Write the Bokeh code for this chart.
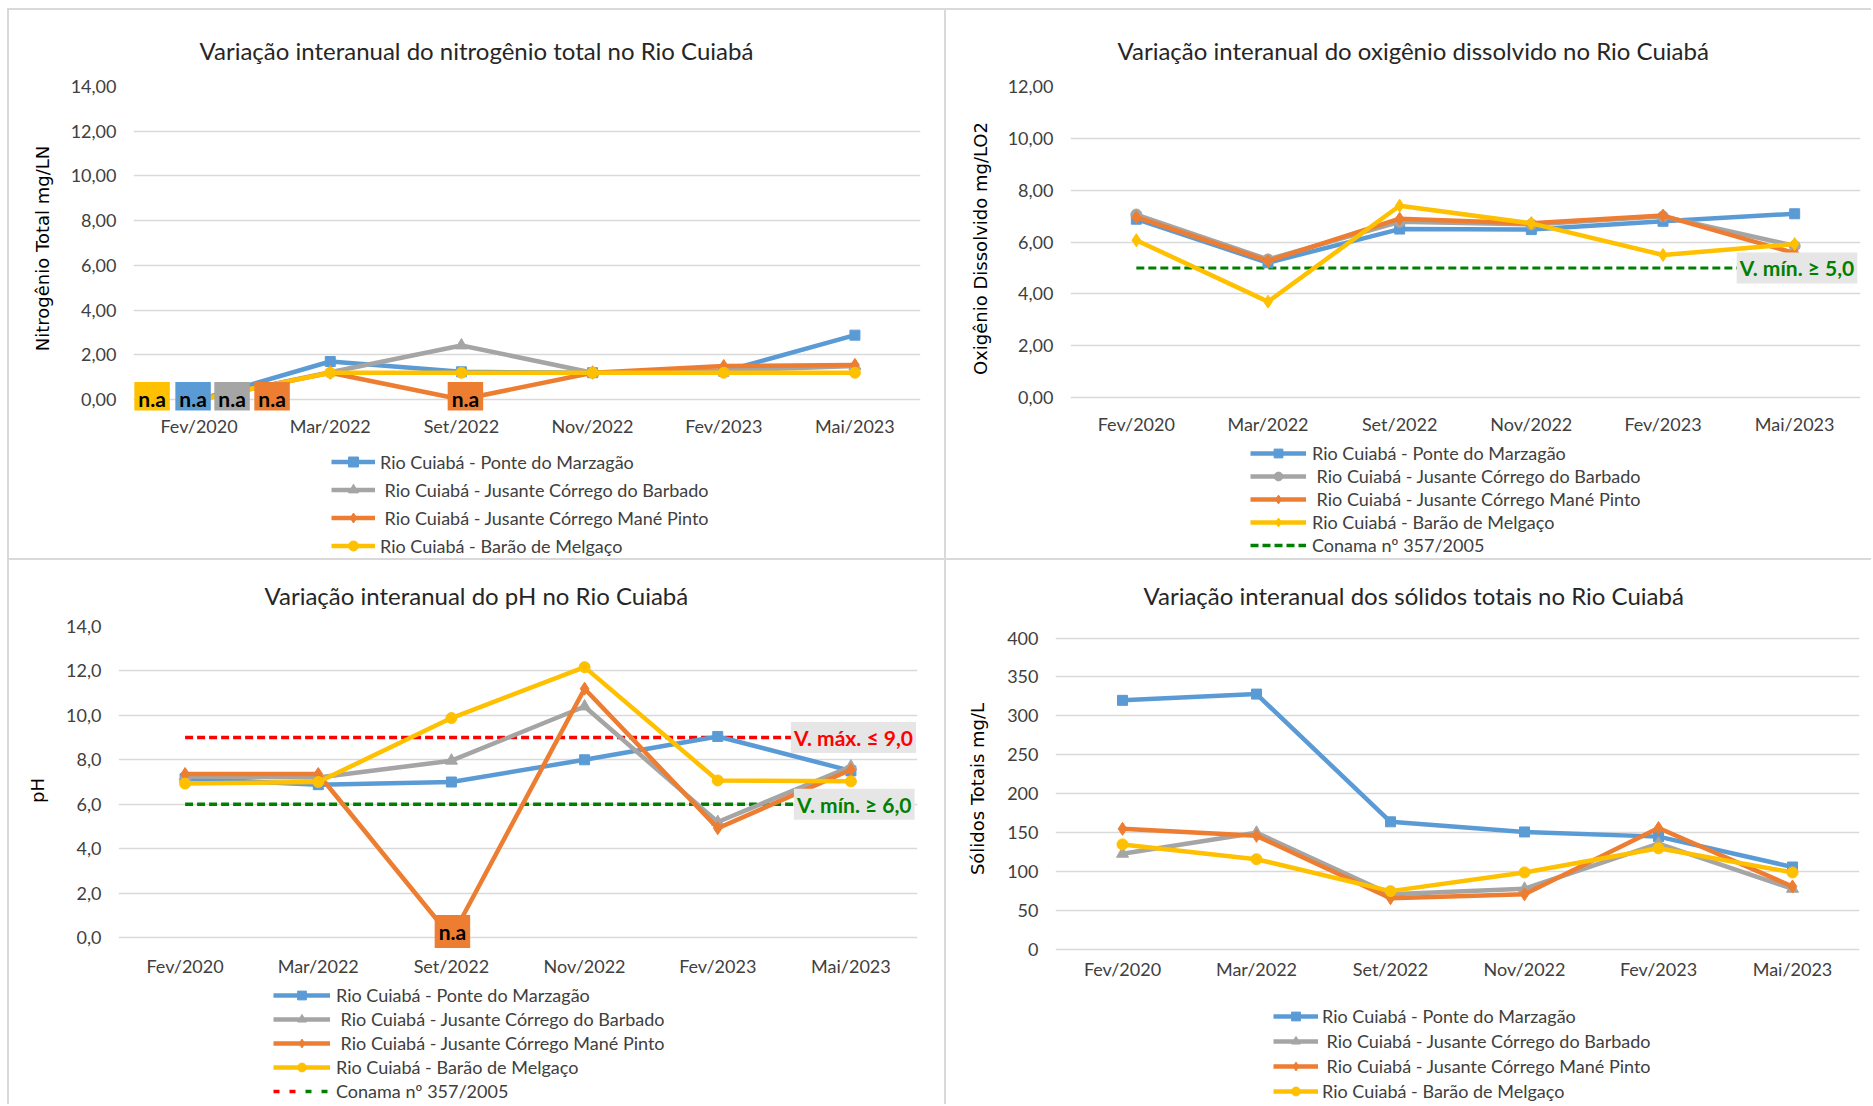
from bokeh.plotting import figure
from bokeh.models import FactorRange, Range1d, FixedTicker, Legend, LegendItem, Label, Spacer
from bokeh.layouts import row, column
from bokeh.core.properties import value
from bokeh.embed import file_html
from bokeh.resources import INLINE

# ---------------- data ----------------
categories = ["Fev/2020", "Mar/2022", "Set/2022", "Nov/2022", "Fev/2023", "Mai/2023"]
series_names = ["Rio Cuiabá - Ponte do Marzagão",
                " Rio Cuiabá - Jusante Córrego do Barbado",
                " Rio Cuiabá - Jusante Córrego Mané Pinto",
                "Rio Cuiabá - Barão de Melgaço"]
conama_label = "Conama nº 357/2005"
na_text = "n.a"

# Nitrogênio total (mg/L N)
n_ponte = [0.0, 1.70, 1.24, 1.20, 1.26, 2.88]
n_barbado = [0.0, 1.22, 2.42, 1.20, 1.30, 1.50]
n_mane = [0.0, 1.20, 0.0, 1.20, 1.50, 1.55]
n_barao = [0.0, 1.20, 1.20, 1.20, 1.20, 1.20]
n_ticks = [0, 2, 4, 6, 8, 10, 12, 14]
n_tick_labels = ["0,00", "2,00", "4,00", "6,00", "8,00", "10,00", "12,00", "14,00"]

# Oxigênio dissolvido (mg/L O2)
o_ponte = [6.88, 5.20, 6.50, 6.48, 6.80, 7.09]
o_barbado = [7.06, 5.33, 6.78, 6.68, 6.99, 5.85]
o_mane = [6.96, 5.27, 6.90, 6.72, 7.02, 5.57]
o_barao = [6.07, 3.70, 7.40, 6.72, 5.50, 5.92]
o_conama_min = [5.0, 5.0, 5.0, 5.0, 5.0, 5.0]
o_ticks = [0, 2, 4, 6, 8, 10, 12]
o_tick_labels = ["0,00", "2,00", "4,00", "6,00", "8,00", "10,00", "12,00"]
o_min_text = "V. mín. ≥ 5,0"

# pH
p_ponte = [7.15, 6.88, 7.00, 8.00, 9.05, 7.50]
p_barbado = [7.25, 7.20, 7.96, 10.40, 5.20, 7.70]
p_mane = [7.36, 7.36, 0.0, 11.20, 4.92, 7.55]
p_barao = [6.93, 7.00, 9.88, 12.17, 7.07, 7.03]
p_conama_max = [9.0, 9.0, 9.0, 9.0, 9.0, 9.0]
p_conama_min = [6.0, 6.0, 6.0, 6.0, 6.0, 6.0]
p_ticks = [0, 2, 4, 6, 8, 10, 12, 14]
p_tick_labels = ["0,0", "2,0", "4,0", "6,0", "8,0", "10,0", "12,0", "14,0"]
p_max_text = "V. máx. ≤ 9,0"
p_min_text = "V. mín. ≥ 6,0"

# Sólidos totais (mg/L)
s_ponte = [320, 328, 164, 151, 145, 106]
s_barbado = [123, 150, 71, 78, 136, 78]
s_mane = [155, 146, 66, 71, 156, 81]
s_barao = [135, 116, 75, 99, 130, 99]
s_ticks = [0, 50, 100, 150, 200, 250, 300, 350, 400]
s_tick_labels = ["0", "50", "100", "150", "200", "250", "300", "350", "400"]

# ---------------- style ----------------
FONT = "Lato"
BLUE, GRAY, ORANGE, YELLOW = "#5B9BD5", "#A5A5A5", "#ED7D31", "#FFC000"
SERIES_COLORS = [BLUE, GRAY, ORANGE, YELLOW]
GREEN, RED = "#008000", "#FF0000"
LABEL_BG = "#E7E6E6"
SEP = "#D9D9D9"
MSIZE = {"square": 10, "triangle": 12, "diamond": 13, "circle": 11}
LW = 4.5


def make_panel(w, h, left, right, top, bottom, yr, ticks, tick_labels, title, t_off, t_stand,
               ylabel, yl_stand, xl_stand):
    p = figure(width=w, height=h, x_range=FactorRange(factors=categories), y_range=Range1d(*yr),
               output_backend="svg", toolbar_location=None,
               min_border_left=left, min_border_right=right,
               min_border_top=top, min_border_bottom=bottom)
    p.title.text = title
    p.title.text_font = FONT
    p.title.text_font_size = "24px"
    p.title.text_font_style = "normal"
    p.title.text_color = "#262626"
    p.title.align = "left"
    p.title.offset = t_off
    p.title.standoff = t_stand
    p.outline_line_color = None
    p.background_fill_color = "white"
    p.border_fill_color = "white"
    p.xgrid.grid_line_color = None
    tk = FixedTicker(ticks=ticks)
    p.yaxis.ticker = tk
    p.ygrid.ticker = tk
    p.ygrid.grid_line_color = "#D9D9D9"
    p.ygrid.grid_line_width = 1.5
    p.yaxis.major_label_overrides = {t: l for t, l in zip(ticks, tick_labels)}
    for ax in (p.xaxis[0], p.yaxis[0]):
        ax.axis_line_color = None
        ax.major_tick_line_color = None
        ax.minor_tick_line_color = None
        ax.major_tick_out = 0
        ax.major_tick_in = 0
        ax.major_label_text_font = FONT
        ax.major_label_text_font_size = "18px"
        ax.major_label_text_color = "#404040"
    p.yaxis.major_label_standoff = 17
    p.xaxis.major_label_standoff = xl_stand
    p.yaxis.axis_label = ylabel
    p.yaxis.axis_label_text_font = "DejaVu Sans"
    p.yaxis.axis_label_text_font_size = "18px"
    p.yaxis.axis_label_text_font_style = "normal"
    p.yaxis.axis_label_text_color = "#000000"
    p.yaxis.axis_label_standoff = yl_stand
    return p


def add_series(p, ys, color, marker):
    p.line(categories, ys, line_color=color, line_width=LW, line_join="round")
    p.scatter(categories, ys, marker=marker, size=MSIZE[marker], fill_color=color, line_color=color)


# legend keys live in a separate strip; their glyphs sit outside that strip's ranges (never shown)
KEY_X, KEY_Y = [-5.0, -4.0], [-5.0, -4.0]


def legend_panel(w, h, left, right, markers, extra, loc, glyph_w, item_h, spacing, standoff):
    lp = figure(width=w, height=h, x_range=Range1d(0, 1), y_range=Range1d(0, 1),
                x_axis_type=None, y_axis_type=None, output_backend="svg", toolbar_location=None,
                min_border_left=left, min_border_right=right, min_border_top=0, min_border_bottom=0)
    lp.outline_line_color = None
    lp.grid.visible = False
    lp.border_fill_color = "white"
    lp.background_fill_color = "white"
    items = []
    for name, color, marker in zip(series_names, SERIES_COLORS, markers):
        rl = lp.line(x=KEY_X, y=KEY_Y, line_color=color, line_width=LW)
        rm = lp.scatter(x=KEY_X, y=KEY_Y, marker=marker, size=MSIZE[marker],
                        fill_color=color, line_color=color)
        items.append(LegendItem(label=name, renderers=[rl, rm]))
    if extra:
        rs = [lp.line(x=KEY_X, y=KEY_Y, line_color=c, line_width=3.5, line_dash=d) for c, d in extra]
        items.append(LegendItem(label=conama_label, renderers=rs))
    leg = Legend(items=items, location=loc, orientation="vertical",
                 glyph_width=glyph_w, glyph_height=item_h, label_height=item_h,
                 spacing=spacing, padding=0, margin=0, label_standoff=standoff,
                 label_text_font=FONT, label_text_font_size="18px", label_text_color="#404040",
                 border_line_color=None, background_fill_alpha=0)
    lp.add_layout(leg)
    return lp


def add_na(p, xs, ys, colors, dx, dy):
    p.text(x=xs, y=ys, text=[na_text] * len(xs), x_offset=dx, y_offset=dy,
           text_font=value(FONT), text_font_style="bold", text_font_size="21px",
           text_color="#000000", text_align="center", text_baseline="middle",
           background_fill_color=colors, padding=4)


# synthetic (FactorRange) coordinate of the last category centre
LAST_CAT_X = categories.index(categories[-1]) + 0.5


def add_limit_label(p, y, text, color, dx):
    p.add_layout(Label(x=LAST_CAT_X, y=y, x_offset=dx, text=text, text_font=FONT,
                       text_font_size="21px", text_font_style="bold", text_color=color,
                       text_align="left", text_baseline="middle",
                       background_fill_color=LABEL_BG, padding=3))


def sep(w, h):
    return Spacer(width=w, height=h, styles={"background-color": SEP})


# ---------------- panel 1: nitrogênio ----------------
mk1 = ["square", "triangle", "diamond", "circle"]
p1 = make_panel(935, 430, 124, 24, 76, 30, (-0.49, 14), n_ticks, n_tick_labels,
                "Variação interanual do nitrogênio total no Rio Cuiabá", 66, 43,
                "Nitrogênio Total mg/LN", 15, 4)
for ys, c, m in zip([n_ponte, n_barbado, n_mane, n_barao], SERIES_COLORS, mk1):
    add_series(p1, ys, c, m)
add_na(p1, [categories[0]] * 4 + [categories[2]],
       [n_barao[0], n_ponte[0], n_barbado[0], n_mane[0], n_mane[2]],
       [YELLOW, BLUE, GRAY, ORANGE, ORANGE], [-47, -6, 33, 73, 4], -1)
l1 = legend_panel(935, 118, 124, 24, mk1, None, (322 - 124, 0), 44, 25, 3, 5)

# ---------------- panel 2: oxigênio ----------------
mk2 = ["square", "circle", "diamond", "diamond"]
p2 = make_panel(925, 430, 124, 11, 76, 30, (-0.5, 12), o_ticks, o_tick_labels,
                "Variação interanual do oxigênio dissolvido no Rio Cuiabá", 47, 43,
                "Oxigênio Dissolvido mg/LO2", 14, 2)
p2.line(categories, o_conama_min, line_color=GREEN, line_width=3, line_dash="8 4")
for ys, c, m in zip([o_ponte, o_barbado, o_mane, o_barao], SERIES_COLORS, mk2):
    add_series(p2, ys, c, m)
add_limit_label(p2, o_conama_min[-1], o_min_text, GREEN, -58)
l2 = legend_panel(925, 118, 124, 11, mk2, [(GREEN, "8 4")], (304 - 124, 2), 56, 22, 1, 6)

# ---------------- panel 3: pH ----------------
mk3 = ["square", "triangle", "diamond", "circle"]
p3 = make_panel(935, 422, 109, 27, 66, 28, (-0.765, 14), p_ticks, p_tick_labels,
                "Variação interanual do pH no Rio Cuiabá", 146, 33,
                "pH", 15, 0)
p3.line(categories, p_conama_max, line_color=RED, line_width=3.5, line_dash="8 4")
p3.line(categories, p_conama_min, line_color=GREEN, line_width=3.5, line_dash="8 4")
for ys, c, m in zip([p_ponte, p_barbado, p_mane, p_barao], SERIES_COLORS, mk3):
    add_series(p3, ys, c, m)
add_na(p3, [categories[2]], [p_mane[2]], [ORANGE], [1], -6)
add_limit_label(p3, p_conama_max[-1], p_max_text, RED, -60)
add_limit_label(p3, p_conama_min[-1], p_min_text, GREEN, -57)
l3 = legend_panel(935, 122, 109, 27, mk3,
                  [(RED, "6 10 6 200"), (GREEN, "0 32 6 10 6 200")],
                  (264 - 109, 2), 57, 22, 2, 6)

# ---------------- panel 4: sólidos ----------------
mk4 = ["square", "triangle", "diamond", "circle"]
p4 = make_panel(925, 422, 109, 12, 66, 28, (-2.5, 414.8), s_ticks, s_tick_labels,
                "Variação interanual dos sólidos totais no Rio Cuiabá", 88, 33,
                "Sólidos Totais mg/L", 16, 6)
for ys, c, m in zip([s_ponte, s_barbado, s_mane, s_barao], SERIES_COLORS, mk4):
    add_series(p4, ys, c, m)
l4 = legend_panel(925, 122, 109, 12, mk4, None, (327 - 109, 2), 45, 22, 3, 4)

inner = column(
    sep(1864, 2),
    row(sep(2, 548), column(p1, l1), sep(2, 548), column(p2, l2)),
    sep(1864, 2),
    row(sep(2, 544), column(p3, l3), sep(2, 544), column(p4, l4)),
)
layout = column(Spacer(width=1871, height=8), row(Spacer(width=7, height=1096), inner))

open("out.html", "w").write(file_html(layout, INLINE))
